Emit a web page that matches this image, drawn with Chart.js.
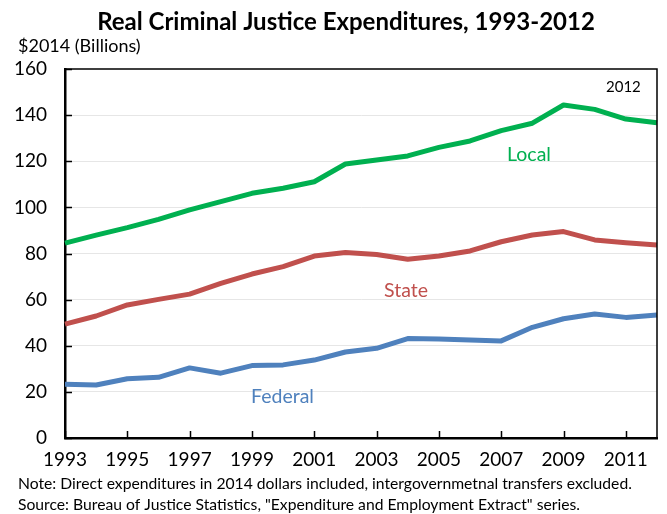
<html>
    <head>
        <script src="https://cdn.jsdelivr.net/npm/chart.js"></script>
        <style>
            body { margin: 0; background: #fff; }
        </style>
    </head>
    <body>
        <canvas id="chart" width="667" height="514"></canvas>
        <script>
            // values, $2014 billions
            var years = [1993, 1994, 1995, 1996, 1997, 1998, 1999, 2000, 2001, 2002,
                         2003, 2004, 2005, 2006, 2007, 2008, 2009, 2010, 2011, 2012];
            var local = [84.5, 88, 91.2, 94.8, 98.9, 102.5, 106.1, 108.3, 111.1, 118.8,
                         120.5, 122.3, 126, 128.8, 133.3, 136.5, 144.4, 142.5, 138.3, 136.7];
            var state = [49.4, 52.9, 57.7, 60.1, 62.4, 67, 71.1, 74.3, 78.9, 80.4,
                         79.6, 77.5, 78.9, 81.1, 85.1, 88, 89.5, 85.9, 84.7, 83.7];
            var federal = [23.3, 23, 25.7, 26.3, 30.4, 28.1, 31.4, 31.7, 33.8, 37.3,
                           38.9, 43.1, 42.9, 42.5, 42.1, 48, 51.7, 53.8, 52.3, 53.3];
            var yTicks = [0, 20, 40, 60, 80, 100, 120, 140, 160];
            var seriesNames = ['Local', 'State', 'Federal'];

            var FONT = 'Lato, "Open Sans", sans-serif';

            // titles, notes, series labels, frame and inward tick marks
            var decor = {
                id: 'decor',
                afterDraw: function(chart) {
                    var ctx = chart.ctx;
                    var a = chart.chartArea;
                    var xs = chart.scales.x, ys = chart.scales.y;
                    ctx.save();

                    // frame on top and right
                    ctx.strokeStyle = '#000';
                    ctx.lineWidth = 1.5;
                    ctx.beginPath();
                    ctx.moveTo(a.left, a.top);
                    ctx.lineTo(a.right, a.top);
                    ctx.lineTo(a.right, a.bottom);
                    ctx.stroke();

                    // tick marks pointing inward
                    ctx.lineWidth = 1.5;
                    ctx.beginPath();
                    yTicks.forEach(function(v) {
                        var py = Math.round(ys.getPixelForValue(v)) + 0.5;
                        ctx.moveTo(a.left, py);
                        ctx.lineTo(a.left + 7, py);
                    });
                    for (var i = 0; i < years.length; i += 2) {
                        var px = Math.round(xs.getPixelForValue(i)) + 0.5;
                        ctx.moveTo(px, a.bottom);
                        ctx.lineTo(px, a.bottom - 7);
                    }
                    ctx.stroke();

                    ctx.textBaseline = 'alphabetic';
                    ctx.fillStyle = '#000';
                    ctx.textAlign = 'center';
                    ctx.font = 'bold 24px ' + FONT;
                    ctx.fillText('Real Criminal Justice Expenditures, 1993-2012', 346, 30);

                    ctx.textAlign = 'left';
                    ctx.font = '18px ' + FONT;
                    ctx.fillText('$2014 (Billions)', 18, 52);

                    ctx.font = '15.7px ' + FONT;
                    ctx.fillText('Note: Direct expenditures in 2014 dollars included, intergovernmetnal transfers excluded.', 18, 489);
                    ctx.fillText('Source: Bureau of Justice Statistics, "Expenditure and Employment Extract" series.', 18, 510);

                    ctx.font = '15px ' + FONT;
                    ctx.fillText(String(years[years.length - 1]), 606, 92);

                    ctx.font = '19.5px ' + FONT;
                    ctx.fillStyle = '#00B050';
                    ctx.fillText(seriesNames[0], 507, 161);
                    ctx.fillStyle = '#C0504D';
                    ctx.fillText(seriesNames[1], 384, 297);
                    ctx.fillStyle = '#4F81BD';
                    ctx.fillText(seriesNames[2], 251, 403);

                    ctx.restore();
                }
            };

            function lineSet(label, data, color) {
                return {
                    label: label,
                    data: data,
                    borderColor: color,
                    backgroundColor: color,
                    borderWidth: 5,
                    pointRadius: 0,
                    tension: 0,
                    borderJoinStyle: 'round'
                };
            }

            var ctx = document.getElementById('chart').getContext('2d');
            var myChart = new Chart(ctx, {
                type: 'line',
                data: {
                    labels: years.map(String),
                    datasets: [
                        lineSet(seriesNames[0], local, '#00B050'),
                        lineSet(seriesNames[1], state, '#C0504D'),
                        lineSet(seriesNames[2], federal, '#4F81BD')
                    ]
                },
                options: {
                    responsive: false,
                    animation: false,
                    layout: { padding: { top: 69, right: 9, left: 0, bottom: 0 } },
                    plugins: {
                        legend: { display: false },
                        title: { display: false },
                        tooltip: { enabled: false }
                    },
                    scales: {
                        x: {
                            type: 'category',
                            offset: false,
                            afterFit: function(s) { s.height = 76; },
                            grid: { display: false, drawTicks: false },
                            border: { display: true, color: '#000', width: 2.5 },
                            ticks: {
                                autoSkip: false,
                                maxRotation: 0,
                                padding: 10,
                                color: '#000',
                                font: { family: FONT, size: 19 },
                                callback: function(v, i) { return i % 2 === 0 ? years[i] : ''; }
                            }
                        },
                        y: {
                            min: 0,
                            max: 160,
                            afterFit: function(s) { s.width = 65; },
                            afterBuildTicks: function(s) {
                                s.ticks = yTicks.map(function(v) { return { value: v }; });
                            },
                            grid: {
                                drawTicks: false,
                                lineWidth: 1,
                                color: function(c) {
                                    return (c.tick.value === 0 || c.tick.value === 160) ? 'rgba(0,0,0,0)' : '#e6e6e6';
                                }
                            },
                            border: { display: true, color: '#000', width: 2.5 },
                            ticks: {
                                padding: 18,
                                color: '#000',
                                font: { family: FONT, size: 19 }
                            }
                        }
                    }
                },
                plugins: [decor]
            });
        </script>
    </body>
</html>
